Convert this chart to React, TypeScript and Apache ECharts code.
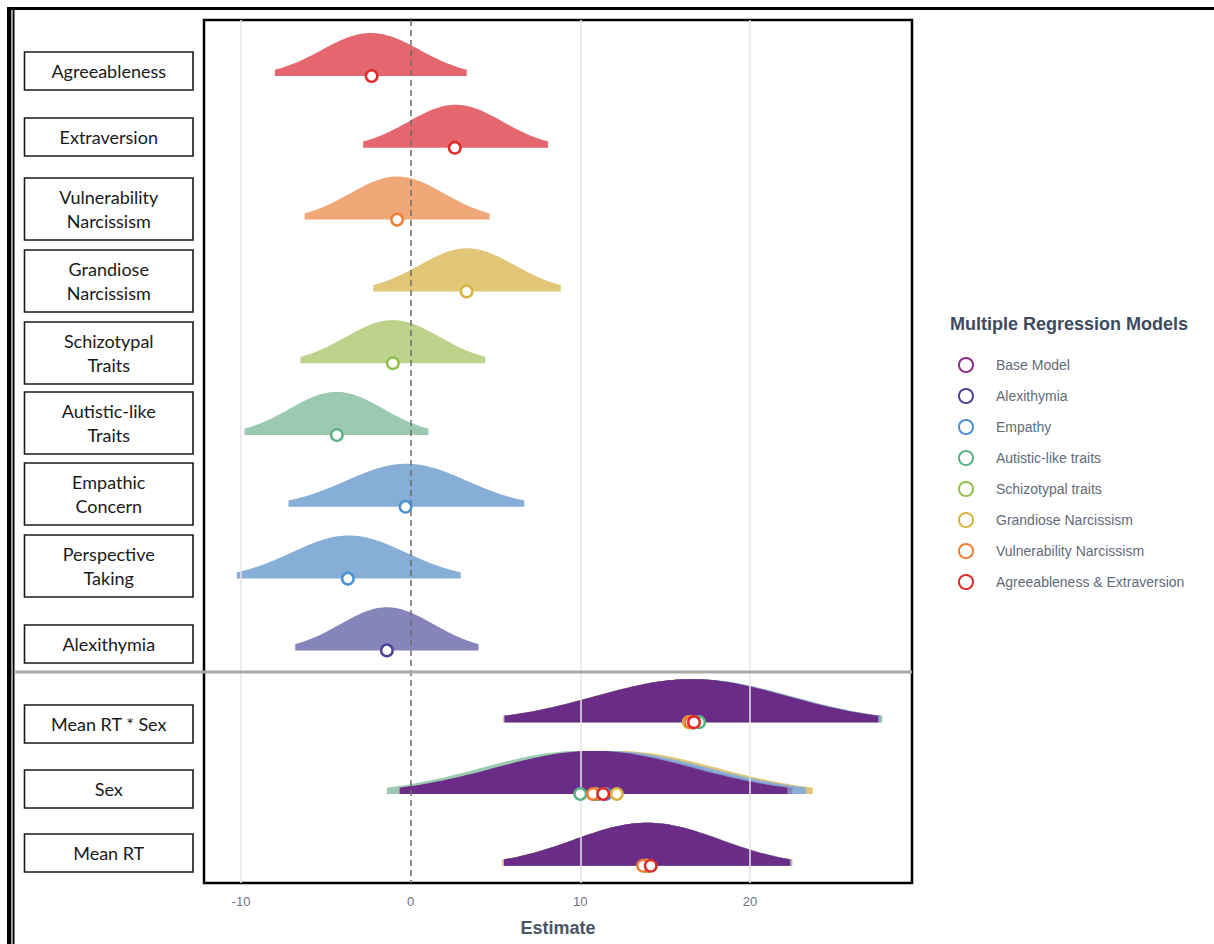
import React, { useEffect, useRef } from 'react';
import * as echarts from 'echarts';

// ---------- data ----------
const rowLabels = [
  'Agreeableness',
  'Extraversion',
  'Vulnerability\nNarcissism',
  'Grandiose\nNarcissism',
  'Schizotypal\nTraits',
  'Autistic-like\nTraits',
  'Empathic\nConcern',
  'Perspective\nTaking',
  'Alexithymia',
  'Mean RT * Sex',
  'Sex',
  'Mean RT',
];

const modelNames = [
  'Base Model',
  'Alexithymia',
  'Empathy',
  'Autistic-like traits',
  'Schizotypal traits',
  'Grandiose Narcissism',
  'Vulnerability Narcissism',
  'Agreeableness & Extraversion',
];

// single-model predictors (rows 0..8)
const topModel = [7, 7, 6, 5, 4, 3, 2, 2, 1];
const topEstimate = [-2.3, 2.6, -0.8, 3.3, -1.05, -4.35, -0.3, -3.7, -1.4];
const topLower = [-8.0, -2.8, -6.25, -2.2, -6.5, -9.8, -7.2, -10.25, -6.8];
const topUpper = [3.3, 8.1, 4.65, 8.85, 4.4, 1.05, 6.7, 2.95, 4.0];

// shared predictors (rows 9..11), one value per model
const meanRtSexEstimate = [16.6, 16.6, 16.7, 17.0, 16.6, 16.4, 16.5, 16.7];
const meanRtSexLower = [5.55, 5.5, 5.6, 5.8, 5.5, 5.45, 5.5, 5.6];
const meanRtSexUpper = [27.55, 27.6, 27.7, 27.8, 27.6, 27.5, 27.6, 27.7];

const sexEstimate = [10.8, 11.0, 11.5, 10.0, 10.9, 12.15, 10.75, 11.35];
const sexLower = [-0.65, -0.5, -0.3, -1.4, -0.6, 0.6, -0.6, -0.3];
const sexUpper = [22.2, 22.5, 23.3, 21.4, 22.4, 23.7, 22.1, 23.0];

const meanRtEstimate = [13.9, 13.9, 13.9, 13.9, 13.9, 13.95, 13.7, 14.15];
const meanRtLower = [5.5, 5.5, 5.5, 5.5, 5.5, 5.45, 5.4, 5.55];
const meanRtUpper = [22.35, 22.4, 22.4, 22.45, 22.4, 22.45, 22.5, 22.4];

const xTickValues = [-10, 0, 10, 20];
const gridValues = [-10, 10, 20];
const referenceValue = 0;

// ---------- styles ----------
const ringColors = ['#8b2d8f', '#4f449c', '#4a8fcf', '#5cb282', '#92c24c', '#d8b43c', '#ee7e36', '#e02a2a'];
const slabColors = ['#6b2c87', '#8584bb', '#86aed6', '#9ccab0', '#bdd38c', '#e2c678', '#f0a878', '#e4666f'];
const boxTops = [52, 118, 178, 250, 322, 392, 463, 535, 625, 705, 770, 834];
const SLAB_HEIGHT = 0.6;
const FONT = 'Liberation Sans, Arial, sans-serif';

export default function App() {
  const ref = useRef<HTMLDivElement>(null);

  useEffect(() => {
    const chart = echarts.init(ref.current as HTMLDivElement, null, { renderer: 'svg' });

    // slab data: [row, lower, upper, modelIndex]
    const slabData: number[][] = [];
    topModel.forEach((m, i) => slabData.push([i, topLower[i], topUpper[i], m]));
    const shared = [
      { row: 9, lo: meanRtSexLower, hi: meanRtSexUpper },
      { row: 10, lo: sexLower, hi: sexUpper },
      { row: 11, lo: meanRtLower, hi: meanRtUpper },
    ];
    shared.forEach((s) => {
      for (let m = modelNames.length - 1; m >= 0; m--) {
        slabData.push([s.row, s.lo[m], s.hi[m], m]);
      }
    });

    const renderSlab = (params: any, api: any) => {
      const row = api.value(0);
      const lo = api.value(1);
      const hi = api.value(2);
      const m = api.value(3);
      const mid = (lo + hi) / 2;
      const se = (hi - lo) / 3.92;
      const n = 80;
      const pts: number[][] = [];
      for (let k = 0; k <= n; k++) {
        const x = lo + ((hi - lo) * k) / n;
        const z = (x - mid) / se;
        const d = Math.exp(-(z * z) / 2);
        pts.push(api.coord([x, row - SLAB_HEIGHT * d]));
      }
      pts.push(api.coord([hi, row]));
      pts.push(api.coord([lo, row]));
      return {
        type: 'polygon',
        shape: { points: pts },
        style: { fill: slabColors[m] },
      };
    };

    const pointSeries = modelNames.map((name, m) => {
      const data: number[][] = [];
      topModel.forEach((tm, i) => {
        if (tm === m) data.push([topEstimate[i], i]);
      });
      data.push([meanRtSexEstimate[m], 9]);
      data.push([sexEstimate[m], 10]);
      data.push([meanRtEstimate[m], 11]);
      return {
        name,
        type: 'scatter',
        data,
        symbol: 'circle',
        symbolSize: 11.5,
        z: 10,
        itemStyle: { color: '#ffffff', borderColor: ringColors[m], borderWidth: 2.5, opacity: 1 },
        emphasis: { disabled: true },
      };
    });

    const graphics: any[] = [];
    // outer frame
    graphics.push({ type: 'rect', shape: { x: 7, y: 7, width: 1207, height: 3 }, style: { fill: '#000' }, z: 50 });
    graphics.push({ type: 'rect', shape: { x: 7, y: 7, width: 4, height: 937 }, style: { fill: '#000' }, z: 50 });
    graphics.push({ type: 'rect', shape: { x: 11, y: 10, width: 2, height: 934 }, style: { fill: '#9a9a9a' }, z: 50 });
    graphics.push({ type: 'rect', shape: { x: 13, y: 10, width: 1.5, height: 934 }, style: { fill: '#000' }, z: 50 });
    // separator
    graphics.push({
      type: 'line',
      shape: { x1: 14, y1: 672, x2: 912, y2: 672 },
      style: { stroke: '#a9a9a9', lineWidth: 3 },
      z: 60,
    });
    // label boxes
    rowLabels.forEach((label, i) => {
      const lines = label.split('\n').length;
      const h = lines > 1 ? 62 : 38;
      const top = boxTops[i];
      graphics.push({
        type: 'rect',
        shape: { x: 24.5, y: top, width: 168.5, height: h },
        style: { fill: '#ffffff', stroke: '#1a1a1a', lineWidth: 1.6 },
        z: 55,
      });
      graphics.push({
        type: 'text',
        x: 108.75,
        y: top + h / 2,
        style: {
          text: label,
          fill: '#1a1a1a',
          fontSize: 18,
          fontFamily: 'Lato, sans-serif',
          align: 'center',
          verticalAlign: 'middle',
          textAlign: 'center',
          textVerticalAlign: 'middle',
          lineHeight: 24,
        },
        z: 56,
      });
    });
    // legend title
    graphics.push({
      type: 'text',
      x: 950,
      y: 324,
      style: {
        text: 'Multiple Regression Models',
        fill: '#3d4b60',
        fontSize: 18,
        fontWeight: 'bold',
        fontFamily: FONT,
        align: 'left',
        verticalAlign: 'middle',
        textAlign: 'left',
        textVerticalAlign: 'middle',
      },
      z: 56,
    });

    const option: any = {
      animation: false,
      backgroundColor: '#ffffff',
      textStyle: { fontFamily: FONT },
      grid: {
        left: 204,
        top: 20,
        right: 1214 - 912,
        bottom: 944 - 883,
        show: true,
        borderColor: '#000',
        borderWidth: 2.5,
        backgroundColor: 'transparent',
      },
      xAxis: {
        type: 'value',
        min: -12.18,
        max: 29.55,
        axisLine: { show: false },
        axisTick: { show: false },
        splitLine: { show: false },
        axisLabel: {
          customValues: xTickValues,
          color: '#6b7480',
          fontSize: 13,
          margin: 12,
          fontFamily: FONT,
        },
        name: 'Estimate',
        nameLocation: 'middle',
        nameGap: 36,
        nameTextStyle: { fontWeight: 'bold', fontSize: 18, color: '#4a5568', fontFamily: FONT },
      },
      yAxis: {
        type: 'value',
        inverse: true,
        min: -0.78,
        max: 11.24,
        show: false,
      },
      legend: {
        orient: 'vertical',
        left: 953,
        top: 352,
        itemWidth: 14,
        itemHeight: 14,
        itemGap: 15,
        selectedMode: false,
        data: modelNames,
        textStyle: { color: '#5f6b7a', fontSize: 14, fontFamily: FONT, padding: [0, 0, 0, 18] },
      },
      graphic: { elements: graphics },
      series: [
        {
          type: 'line',
          data: [],
          z: 1,
          markLine: {
            silent: true,
            symbol: ['none', 'none'],
            label: { show: false },
            lineStyle: { color: '#e6e6e6', width: 1.5, type: 'solid' },
            data: gridValues.map((v) => ({ xAxis: v })),
          },
        },
        {
          type: 'custom',
          renderItem: renderSlab,
          data: slabData,
          encode: { x: [1, 2], y: 0 },
          z: 2,
          silent: true,
        },
        {
          type: 'line',
          data: [],
          z: 5,
          markLine: {
            silent: true,
            symbol: ['none', 'none'],
            label: { show: false },
            lineStyle: { color: '#6e6e6e', width: 1.5, type: [6, 4] },
            data: [{ xAxis: referenceValue }],
          },
        },
        ...pointSeries,
      ],
    };

    chart.setOption(option);
    return () => chart.dispose();
  }, []);

  return (
    <div
      ref={ref}
      style={{ position: 'absolute', left: 0, top: 0, width: 1214, height: 944, background: '#fff' }}
    />
  );
}
